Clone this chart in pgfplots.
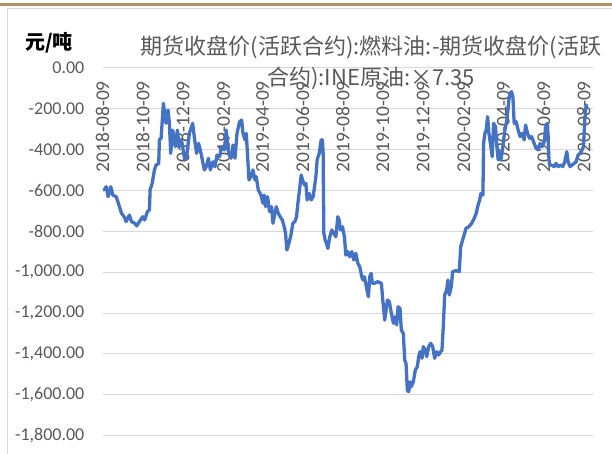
\documentclass[border=0pt]{standalone}
\usepackage{pgfplots}
\pgfplotsset{compat=1.18}
\usepackage{fontspec}
\setmainfont{Carlito}
\newfontfamily\cjk{Noto Sans CJK SC}
\definecolor{txtgray}{HTML}{595959}
\definecolor{gridgray}{HTML}{D9D9D9}
\definecolor{lineblue}{HTML}{4472C4}
\definecolor{topbrown}{HTML}{B0915F}
\pgfplotstableread{
d v
2.6 -597
5.6 -581
8.6 -630
12.6 -581
15.6 -622
20.8 -630
25.8 -679
28.8 -711
32.9 -728
35.9 -752
40.9 -720
44 -752
49 -760
52 -773
56.1 -752
61.1 -728
64.1 -744
68.2 -703
71.3 -695
72.3 -597
75.4 -565
78.9 -499
81.4 -475
85.4 -467
86.4 -352
89 -344
90.5 -271
92.5 -173
94.5 -222
96.6 -271
99.6 -206
101.6 -271
103.6 -418
106.6 -304
110.7 -385
113.7 -304
116.8 -385
119.8 -352
121.8 -385
124.8 -450
127.8 -434
131.9 -320
136.9 -271
140 -352
143 -418
146 -369
149.7 -418
154.7 -499
157.7 -483
160.8 -442
163.8 -499
167.9 -459
170.9 -483
173.9 -426
177.9 -434
180.9 -385
185 -401
188 -304
191.1 -410
195.2 -442
198.2 -377
201.2 -442
204.3 -320
208.2 -263
211.3 -255
213.4 -320
216.4 -352
218.4 -320
220.4 -434
222.5 -548
225.5 -532
228.5 -499
231.6 -548
233.5 -532
236.6 -597
240.7 -622
243.7 -662
245.7 -622
247.6 -679
250.7 -630
253.7 -703
256.7 -679
258.9 -760
261.9 -711
263.9 -679
266.9 -711
269.9 -728
273 -744
276 -777
278 -809
280.1 -891
283.1 -858
286.2 -818
289.2 -760
292.2 -752
294.7 -728
296.8 -662
299.8 -581
301.8 -524
303.8 -548
306.8 -573
308.9 -565
310.9 -646
313.9 -614
316.9 -646
320 -630
322 -581
324.1 -532
326 -450
329.1 -418
332.1 -352
334.1 -352
335.1 -418
336.2 -809
338.2 -842
340.2 -858
342.3 -883
345.3 -826
348.3 -793
351.4 -809
354.4 -826
357.4 -728
359.4 -744
361.4 -793
364.4 -777
367.5 -826
369.6 -916
372.6 -899
375.6 -924
378.7 -899
381.7 -940
384.7 -907
387.8 -956
390.8 -973
393.8 -1022
395.8 -1038
397.8 -1022
400.8 -1071
403.8 -1120
406 -1022
407.9 -1005
409.9 -1054
412.9 -1054
418.1 -1046
423.6 -1054
425.7 -1136
428.7 -1234
430.7 -1185
432.7 -1136
435.7 -1144
438.7 -1201
441.8 -1250
443.9 -1218
446.9 -1258
448.9 -1169
451.9 -1177
453.9 -1283
456.9 -1299
459 -1430
461 -1446
463 -1577
465.1 -1585
467.1 -1536
469 -1560
472.1 -1536
475.1 -1479
478.2 -1462
480.3 -1413
482.2 -1389
485.3 -1421
487.2 -1364
490.3 -1381
492.4 -1413
495.4 -1364
498.5 -1348
501.5 -1364
504.5 -1421
507.6 -1389
510.6 -1405
513.6 -1389
515.6 -1381
517.6 -1266
519.7 -1111
522.7 -1087
524.7 -1038
526.7 -1111
529.7 -1071
531.8 -997
536.8 -992
541.9 -997
544 -875
547 -842
550.1 -809
552 -785
556.6 -777
560.7 -760
564.6 -736
567.6 -711
569.8 -679
572.8 -646
574.8 -614
577.8 -622
578.8 -369
580.8 -320
582.8 -304
584.9 -238
586.9 -320
589.9 -385
591.9 -434
594 -271
597 -287
599 -385
601 -450
603.1 -410
605.1 -450
608.1 -385
611.1 -304
614.2 -255
617.2 -157
619.2 -124
621.3 -116
623.3 -140
625.3 -271
628.3 -263
631.3 -304
634.4 -336
637.4 -320
640.4 -352
642.6 -279
645.6 -320
648.6 -344
651.7 -336
655.6 -369
658.6 -393
661.7 -401
664.7 -369
667.7 -385
670.8 -361
673.8 -279
675.9 -271
677.9 -434
678.9 -475
682 -475
685.9 -483
688.9 -467
692 -483
696.1 -475
699.1 -483
702.1 -459
705.2 -410
707.2 -459
710.2 -483
713.2 -475
716.3 -467
719.3 -459
722.3 -426
725.4 -418
728.4 -401
730.5 -385
732.5 -255
734.5 -181
735.5 -189
}\datatable
\begin{document}
\begin{tikzpicture}[x=1pt,y=1pt]
\useasboundingbox (0,0) rectangle (612,454);
% frame
\draw[topbrown, line width=3pt] (0,449.5) -- (612,449.5);
\draw[gridgray, line width=1pt] (612,445) -- (7.5,445) -- (7.5,0);
\begin{axis}[
  at={(102.5pt,18.3pt)}, anchor=south west,
  scale only axis, width=490.5pt, height=367.7pt,
  xmin=0, xmax=745, ymin=-1800, ymax=0,
  axis line style={draw=none},
  major tick length=0pt,
  ytick={-1800,-1600,...,0},
  ymajorgrids, grid style={gridgray, line width=1pt},
  scaled y ticks=false,
  yticklabel style={font=\fontsize{18}{18}\selectfont, text=txtgray, inner sep=0pt, anchor=east,
    /pgf/number format/fixed, /pgf/number format/fixed zerofill,
    /pgf/number format/precision=2, /pgf/number format/1000 sep={,},
    /pgf/number format/assume math mode=true},
  yticklabel shift=18pt,
  xtick={0,61,122,184,243,304,365,426,487,549,609,670,731},
  xticklabels={2018-08-09,2018-10-09,2018-12-09,2019-02-09,2019-04-09,2019-06-09,2019-08-09,2019-10-09,2019-12-09,2020-02-09,2020-04-09,2020-06-09,2020-08-09},
  xticklabel pos=upper,
  xticklabel style={font=\fontsize{19.5}{19.5}\selectfont, text=txtgray, inner sep=0pt, rotate=90, anchor=east},
  xticklabel shift=-13pt,
]
\addplot[lineblue, line width=3.3pt, line join=round, line cap=round] table[x=d, y=v] {\datatable};
\end{axis}
\node[font=\cjk\bfseries\fontsize{20}{20}\selectfont, text=black] at (49,411) {元/吨};
\node[font=\cjk\fontsize{22}{31}\selectfont, text=txtgray, align=center] at (371,391.5) {期货收盘价(活跃合约):燃料油:-期货收盘价(活跃\\合约):INE原油:×7.35};
\end{tikzpicture}
\end{document}
